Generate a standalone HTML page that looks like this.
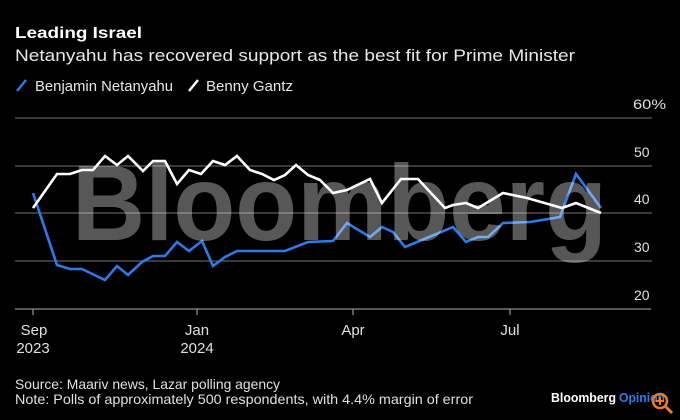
<!DOCTYPE html>
<html><head><meta charset="utf-8"><style>
html,body{margin:0;padding:0;background:#000;}
svg{display:block;}
text{font-family:"Liberation Sans",sans-serif;}
</style></head><body>
<svg width="680" height="420" viewBox="0 0 680 420" xmlns="http://www.w3.org/2000/svg">
<rect width="680" height="420" fill="#000"/>
<text x="15" y="38" font-size="16" font-weight="bold" fill="#fff" textLength="127" lengthAdjust="spacingAndGlyphs">Leading Israel</text>
<text x="15" y="61" font-size="17" fill="#e8e8e8" textLength="560" lengthAdjust="spacingAndGlyphs">Netanyahu has recovered support as the best fit for Prime Minister</text>
<line x1="17" y1="91" x2="26" y2="80" stroke="#2e7be6" stroke-width="2.5"/>
<text x="35" y="91" font-size="15" fill="#e8e8e8" textLength="138" lengthAdjust="spacingAndGlyphs">Benjamin Netanyahu</text>
<line x1="189" y1="91" x2="198" y2="80" stroke="#fff" stroke-width="2.5"/>
<text x="206" y="91" font-size="15" fill="#e8e8e8" textLength="87" lengthAdjust="spacingAndGlyphs">Benny Gantz</text>
<g stroke="#5c5c5c" stroke-width="1.2">
<line x1="15" y1="118" x2="652" y2="118"/>
<line x1="15" y1="166" x2="652" y2="166"/>
<line x1="15" y1="213" x2="652" y2="213"/>
<line x1="15" y1="261" x2="652" y2="261"/>
</g>
<line x1="15" y1="309" x2="651" y2="309" stroke="#8c8c8c" stroke-width="1.3"/>
<g stroke="#8c8c8c" stroke-width="1.3">
<line x1="33" y1="309" x2="33" y2="315"/>
<line x1="197" y1="309" x2="197" y2="315"/>
<line x1="353" y1="309" x2="353" y2="315"/>
<line x1="510" y1="309" x2="510" y2="315"/>
</g>
<g font-size="14" fill="#e0e0e0">
<text x="633" y="109" textLength="33" lengthAdjust="spacingAndGlyphs">60%</text>
<text x="634" y="157">50</text>
<text x="634" y="204">40</text>
<text x="634" y="252">30</text>
<text x="634" y="300">20</text>
</g>
<g font-size="15" fill="#e0e0e0" text-anchor="middle">
<text x="34" y="335">Sep</text>
<text x="33" y="353">2023</text>
<text x="197" y="335">Jan</text>
<text x="197" y="353">2024</text>
<text x="353" y="335">Apr</text>
<text x="510" y="335">Jul</text>
</g>
<polyline fill="none" stroke="#2e7be6" stroke-width="2.6" stroke-linejoin="miter" points="33,193 57,265 70,269 82,269 105,280 117,266 128,275 142,262 153,256 165,256 177,242 189,251 202,241 213,266 225,257 237,251 285,251 308,242 333,241 347,223 370,237 382,227 393,232 405,247 453,227 466,242 478,237 488,237 503,223 530,222 560,217 576,174 601,208"/>
<polyline fill="none" stroke="#fff" stroke-width="2.6" stroke-linejoin="miter" points="33,208 57,174 70,174 82,170 93,170 105,156 117,165 128,156 143,171 153,161 165,161 177,184 189,170 201,174 213,161 225,165 237,156 250,170 262,174 274,180 285,175 296,165 308,175 320,180 333,193 347,190 370,179 382,203 401,179 418,179 430,192 445,208 453,205 466,203 478,208 503,193 527,198 562,208 576,203 601,213"/>
<text x="72" y="240" font-size="108" font-weight="bold" fill="#fff" fill-opacity="0.34" textLength="535" lengthAdjust="spacingAndGlyphs">Bloomberg</text>
<g font-size="14" fill="#e0e0e0">
<text x="15" y="389" textLength="265" lengthAdjust="spacingAndGlyphs">Source: Maariv news, Lazar polling agency</text>
<text x="15" y="404" textLength="458" lengthAdjust="spacingAndGlyphs">Note: Polls of approximately 500 respondents, with 4.4% margin of error</text>
</g>
<text x="551" y="402" font-size="13" font-weight="bold" fill="#fff" textLength="65" lengthAdjust="spacingAndGlyphs">Bloomberg</text>
<text x="619" y="402" font-size="13" font-weight="bold" fill="#2e7be6" textLength="46" lengthAdjust="spacingAndGlyphs">Opinion</text>
<circle cx="660" cy="401" r="7" fill="none" stroke="#f07b24" stroke-width="2.5"/>
<line x1="665" y1="406" x2="672" y2="413" stroke="#f07b24" stroke-width="3"/>
<line x1="656" y1="401" x2="664" y2="401" stroke="#f07b24" stroke-width="2"/>
<line x1="660" y1="397" x2="660" y2="405" stroke="#f07b24" stroke-width="2"/>
</svg>
</body></html>
